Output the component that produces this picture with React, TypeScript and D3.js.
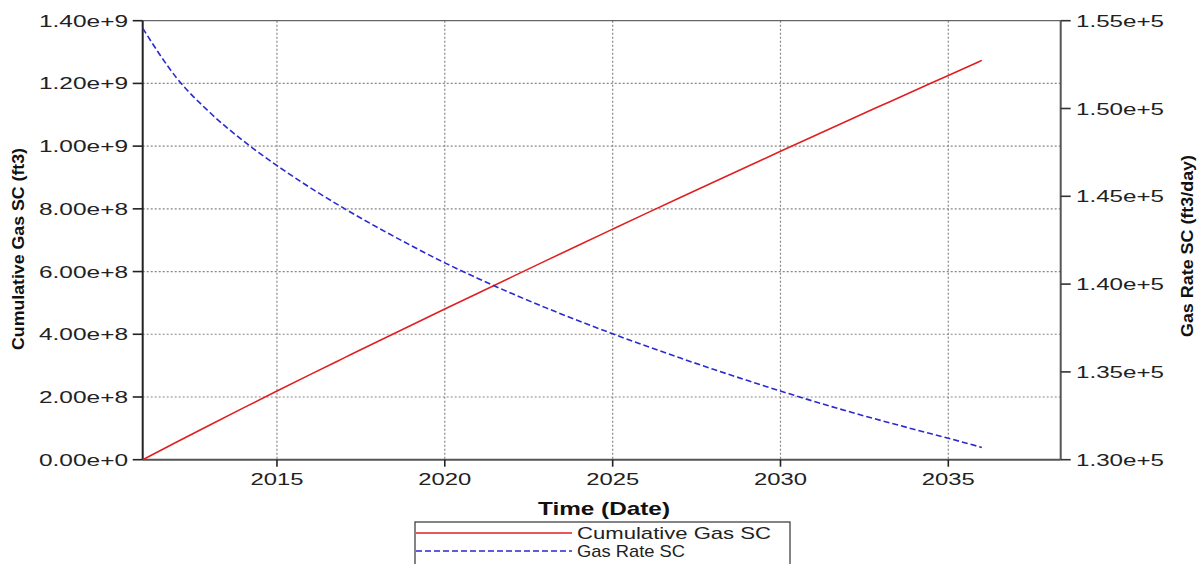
import React from "react";
import * as d3 from "d3";

const years = [2011, 2012, 2013, 2014, 2015, 2016, 2017, 2018, 2019, 2020, 2021, 2022, 2023, 2024, 2025, 2026, 2027, 2028, 2029, 2030, 2031, 2032, 2033, 2034, 2035, 2036];
const cumulativeGas = [0, 0.0558e9, 0.1109e9, 0.1653e9, 0.2190e9, 0.2722e9, 0.3248e9, 0.3771e9, 0.4288e9, 0.4803e9, 0.5318e9, 0.5830e9, 0.6340e9, 0.6848e9, 0.7353e9, 0.7855e9, 0.8354e9, 0.8850e9, 0.9344e9, 0.9836e9, 1.0325e9, 1.0811e9, 1.1294e9, 1.1775e9, 1.2253e9, 1.2735e9];
const gasRate = [1.5457e5, 1.5177e5, 1.4977e5, 1.4815e5, 1.4675e5, 1.4548e5, 1.4431e5, 1.4322e5, 1.4219e5, 1.4121e5, 1.4031e5, 1.3946e5, 1.3866e5, 1.3790e5, 1.3717e5, 1.3647e5, 1.3580e5, 1.3515e5, 1.3452e5, 1.3391e5, 1.3332e5, 1.3276e5, 1.3223e5, 1.3172e5, 1.3122e5, 1.3070e5];
const leftTicks = [0, 2e8, 4e8, 6e8, 8e8, 10e8, 12e8, 14e8];
const leftTickLabels = ["0.00e+0", "2.00e+8", "4.00e+8", "6.00e+8", "8.00e+8", "1.00e+9", "1.20e+9", "1.40e+9"];
const rightTicks = [1.30e5, 1.35e5, 1.40e5, 1.45e5, 1.50e5, 1.55e5];
const rightTickLabels = ["1.30e+5", "1.35e+5", "1.40e+5", "1.45e+5", "1.50e+5", "1.55e+5"];
const xTickYears = [2015, 2020, 2025, 2030, 2035];
const legendLabels = ["Cumulative Gas SC", "Gas Rate SC"];

const FONT = "'Liberation Sans', Arial, sans-serif";

export default function App() {
  const L = 142.7, R = 1060.7, T = 20.7, B = 459.7;
  const x = d3.scaleTime().domain([new Date(2011, 0, 1), new Date(2038, 4, 8)]).range([L, R]);
  const yL = d3.scaleLinear().domain([0, 1.4e9]).range([B, T]);
  const yR = d3.scaleLinear().domain([1.30e5, 1.55e5]).range([B, T]);
  const dates = years.map((y) => new Date(y, 0, 1));

  const redLine = d3.line<number>().x((_, i) => x(dates[i])).y((v) => yL(v)).curve(d3.curveMonotoneX)(cumulativeGas) || "";
  const blueLine = d3.line<number>().x((_, i) => x(dates[i])).y((v) => yR(v)).curve(d3.curveMonotoneX)(gasRate) || "";

  const grid = "#888";
  return (
    <svg width={1204} height={564} style={{ position: "absolute", left: 0, top: 0, background: "#fff" }} fontFamily={FONT}>
      {/* grid */}
      {leftTicks.slice(1, -1).map((t) => (
        <line key={"gh" + t} x1={L} x2={R} y1={yL(t)} y2={yL(t)} stroke={grid} strokeWidth={1.2} strokeDasharray="2,2" />
      ))}
      {xTickYears.map((yr) => (
        <line key={"gv" + yr} x1={x(new Date(yr, 0, 1))} x2={x(new Date(yr, 0, 1))} y1={T} y2={B} stroke={grid} strokeWidth={1.2} strokeDasharray="2,2" />
      ))}
      {/* frame */}
      <line x1={L} x2={R} y1={T} y2={T} stroke="#666" strokeWidth={1.2} />
      <line x1={L} x2={R} y1={B} y2={B} stroke="#555" strokeWidth={2} />
      <line x1={R} x2={R} y1={T} y2={B} stroke="#555" strokeWidth={2} />
      <line x1={L} x2={L} y1={T} y2={B} stroke="#222" strokeWidth={2} />
      {/* series */}
      <path d={redLine} fill="none" stroke="#e02020" strokeWidth={1.6} />
      <path d={blueLine} fill="none" stroke="#2a2ad0" strokeWidth={1.6} strokeDasharray="6,3" />
      {/* left axis */}
      {leftTicks.map((t, i) => (
        <g key={"lt" + t}>
          <line x1={L - 10} x2={L} y1={yL(t)} y2={yL(t)} stroke="#222" strokeWidth={1.6} />
          <text x={128} y={yL(t) + 6} textAnchor="end" fontSize={17} fill="#222" textLength={89} lengthAdjust="spacingAndGlyphs">{leftTickLabels[i]}</text>
        </g>
      ))}
      {/* right axis */}
      {rightTicks.map((t, i) => (
        <g key={"rt" + t}>
          <line x1={R} x2={R + 10} y1={yR(t)} y2={yR(t)} stroke="#333" strokeWidth={1.6} />
          <text x={1076} y={yR(t) + 6} textAnchor="start" fontSize={17} fill="#222" textLength={88} lengthAdjust="spacingAndGlyphs">{rightTickLabels[i]}</text>
        </g>
      ))}
      {/* x axis */}
      {xTickYears.map((yr) => (
        <g key={"xt" + yr}>
          <line x1={x(new Date(yr, 0, 1))} x2={x(new Date(yr, 0, 1))} y1={B} y2={B + 7} stroke="#222" strokeWidth={1.6} />
          <text x={x(new Date(yr, 0, 1))} y={485} textAnchor="middle" fontSize={17} fill="#222" textLength={53} lengthAdjust="spacingAndGlyphs">{String(yr)}</text>
        </g>
      ))}
      {/* axis titles */}
      <text x={604} y={515} textAnchor="middle" fontSize={19} fontWeight="bold" fill="#111" textLength={132} lengthAdjust="spacingAndGlyphs">Time (Date)</text>
      <text transform="translate(24,249) rotate(-90)" textAnchor="middle" fontSize={16} fontWeight="bold" fill="#111" textLength={202} lengthAdjust="spacingAndGlyphs">Cumulative Gas SC (ft3)</text>
      <text transform="translate(1193,246) rotate(-90)" textAnchor="middle" fontSize={16} fontWeight="bold" fill="#111" textLength={182} lengthAdjust="spacingAndGlyphs">Gas Rate SC (ft3/day)</text>
      {/* legend */}
      <rect x={415} y={522} width={375} height={60} fill="#fff" stroke="#333" strokeWidth={1.2} />
      <line x1={416} x2={572} y1={533} y2={533} stroke="#e02020" strokeWidth={1.6} />
      <text x={577} y={539} fontSize={17} fill="#222" textLength={194} lengthAdjust="spacingAndGlyphs">{legendLabels[0]}</text>
      <line x1={416} x2={572} y1={551} y2={551} stroke="#2a2ad0" strokeWidth={1.6} strokeDasharray="6,3" />
      <text x={577} y={557} fontSize={17} fill="#222" textLength={108} lengthAdjust="spacingAndGlyphs">{legendLabels[1]}</text>
    </svg>
  );
}
